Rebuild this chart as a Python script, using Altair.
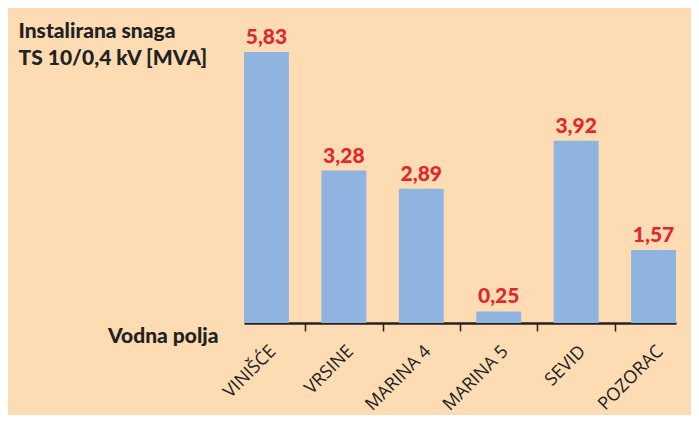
import altair as alt
import pandas as pd

categories = ["VINIŠĆE", "VRSINE", "MARINA 4", "MARINA 5", "SEVID", "POZORAC"]
values = [5.83, 3.28, 2.89, 0.25, 3.92, 1.57]
labels = ["5,83", "3,28", "2,89", "0,25", "3,92", "1,57"]
y_title = ["Instalirana snaga", "TS 10/0,4 kV [MVA]"]
x_title = "Vodna polja"

df = pd.DataFrame({"polje": categories, "snaga": values, "oznaka": labels})

BG = "#FDDCB3"
BAR = "#8FB4DF"
RED = "#E3262B"
INK = "#222222"
STEP = 77.5

x_enc = alt.X(
    "polje:N",
    sort=categories,
    scale=alt.Scale(paddingInner=0.42, paddingOuter=0),
    axis=alt.Axis(
        title=x_title,
        titleFont="Lato",
        titleFontSize=21,
        titleFontWeight=900,
        titleColor=INK,
        titleAlign="right",
        titleBaseline="alphabetic",
        titleX=-26,
        titleY=19,
        labelAngle=-45,
        labelAlign="right",
        labelBaseline="top",
        labelFont="Open Sans",
        labelFontSize=18,
        labelColor=INK,
        labelPadding=11,
        labelOffset=-STEP / 2,
        tickOffset=STEP / 2,
        tickSize=8,
        tickWidth=1.5,
        tickColor=INK,
        tickOpacity={"condition": {"test": "datum.value === 'POZORAC'", "value": 0}, "value": 1},
        domainColor=INK,
        domainWidth=2.5,
        grid=False,
    ),
)

y_enc = alt.Y(
    "snaga:Q",
    scale=alt.Scale(domain=[0, 5.83], nice=False),
    axis=alt.Axis(
        title=y_title,
        titleFont="Lato",
        titleFontSize=21,
        titleFontWeight=900,
        titleColor=INK,
        titleAngle=0,
        titleAlign="left",
        titleBaseline="alphabetic",
        titleLineHeight=27,
        titleX=-226,
        titleY=-15,
        labels=False,
        ticks=False,
        domain=False,
        grid=False,
    ),
)

base = alt.Chart(df).encode(x=x_enc, y=y_enc)

bars = base.mark_bar(color=BAR)
text = base.mark_text(
    color=RED, font="Lato", fontSize=21, fontWeight=900, dy=-8, baseline="alphabetic"
).encode(text="oznaka:N")

chart = (
    (bars + text)
    .properties(
        width=432,
        height=271,
        background=BG,
        padding={"left": 236, "top": 44, "right": 15, "bottom": 92},
        autosize=alt.AutoSizeParams(type="none"),
    )
    .configure_view(stroke=None)
)

chart.save("out.html", embed_options={"renderer": "svg", "actions": False})
